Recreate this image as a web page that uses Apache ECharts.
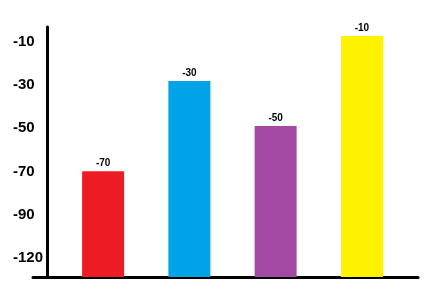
<!DOCTYPE html>
<html><head><meta charset="utf-8">
<script src="https://cdn.jsdelivr.net/npm/echarts@6/dist/echarts.min.js"></script>
<style>html,body{margin:0;padding:0;background:#fff}#c{width:429px;height:305px}</style>
</head><body><div id="c"></div>
<script>
const categories = ['A', 'B', 'C', 'D'];
const values = [-70, -30, -50, -10];
const barColors = ['#ED1C24', '#00A2E8', '#A349A4', '#FFF200'];
const tickValues = [-110, -90, -70, -50, -30, -10];
const tickLabels = ['-120', '-90', '-70', '-50', '-30', '-10'];
const axisMin = -117, axisMax = -6;
const labelAxisMin = -118.8, labelAxisMax = -3.1;

const chart = echarts.init(document.getElementById('c'), null, {renderer: 'canvas'});
chart.setOption({
  animation: false,
  backgroundColor: '#fff',
  grid: [
    {left: 33, right: 11, top: 27, bottom: 28, containLabel: false},
    {left: 60, right: 24, top: 27, bottom: 28, containLabel: false}
  ],
  xAxis: [
    {gridIndex: 0, type: 'value', min: 0, max: 1,
     axisLine: {show: true, onZero: false, lineStyle: {color: '#000', width: 3}},
     axisTick: {show: false}, axisLabel: {show: false}, splitLine: {show: false}},
    {gridIndex: 1, type: 'category', data: categories,
     axisLine: {show: false}, axisTick: {show: false}, axisLabel: {show: false}, splitLine: {show: false}}
  ],
  yAxis: [
    {gridIndex: 0, type: 'value', min: labelAxisMin, max: labelAxisMax, offset: -14,
     axisLine: {show: true, onZero: false, lineStyle: {color: '#000', width: 3}},
     axisTick: {show: false}, splitLine: {show: false},
     axisLabel: {show: true, customValues: tickValues, margin: 34, align: 'left',
       color: '#000', fontWeight: 'bold', fontSize: 15, fontFamily: 'Liberation Sans, Arial, sans-serif',
       formatter: v => tickLabels[tickValues.indexOf(v)]}},
    {gridIndex: 1, type: 'value', min: axisMin, max: axisMax, startValue: axisMin,
     axisLine: {show: false}, axisTick: {show: false}, axisLabel: {show: false}, splitLine: {show: false}}
  ],
  series: [{
    type: 'bar', xAxisIndex: 1, yAxisIndex: 1, barWidth: 42,
    data: values.map((v, i) => ({value: v, itemStyle: {color: barColors[i]}})),
    label: {show: true, position: 'top', distance: 3, color: '#000', fontWeight: 'bold', fontSize: 10,
      fontFamily: 'Liberation Sans, Arial, sans-serif'}
  }]
});
</script></body></html>
